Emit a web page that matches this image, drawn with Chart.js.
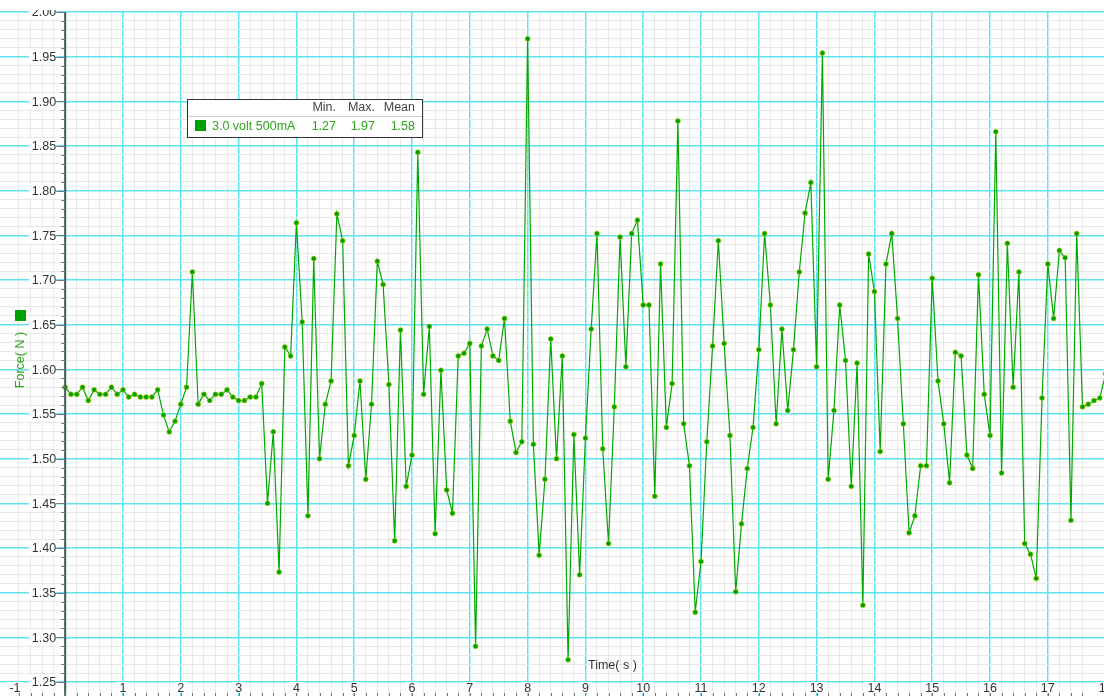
<!DOCTYPE html>
<html>
<head>
<meta charset="utf-8">
<script src="https://cdn.jsdelivr.net/npm/chart.js@4/dist/chart.umd.min.js"></script>
<style>
  html, body { margin: 0; padding: 0; background: #fff; }
  #force-chart { display: block; }
</style>
</head>
<body>
<canvas id="force-chart" width="1104" height="696"></canvas>
<script>
// sample times (s), 10 Hz
const times = [
  0.0, 0.1, 0.2, 0.3, 0.4, 0.5, 0.6, 0.7, 0.8, 0.9,
  1.0, 1.1, 1.2, 1.3, 1.4, 1.5, 1.6, 1.7, 1.8, 1.9,
  2.0, 2.1, 2.2, 2.3, 2.4, 2.5, 2.6, 2.7, 2.8, 2.9,
  3.0, 3.1, 3.2, 3.3, 3.4, 3.5, 3.6, 3.7, 3.8, 3.9,
  4.0, 4.1, 4.2, 4.3, 4.4, 4.5, 4.6, 4.7, 4.8, 4.9,
  5.0, 5.1, 5.2, 5.3, 5.4, 5.5, 5.6, 5.7, 5.8, 5.9,
  6.0, 6.1, 6.2, 6.3, 6.4, 6.5, 6.6, 6.7, 6.8, 6.9,
  7.0, 7.1, 7.2, 7.3, 7.4, 7.5, 7.6, 7.7, 7.8, 7.9,
  8.0, 8.1, 8.2, 8.3, 8.4, 8.5, 8.6, 8.7, 8.8, 8.9,
  9.0, 9.1, 9.2, 9.3, 9.4, 9.5, 9.6, 9.7, 9.8, 9.9,
  10.0, 10.1, 10.2, 10.3, 10.4, 10.5, 10.6, 10.7, 10.8, 10.9,
  11.0, 11.1, 11.2, 11.3, 11.4, 11.5, 11.6, 11.7, 11.8, 11.9,
  12.0, 12.1, 12.2, 12.3, 12.4, 12.5, 12.6, 12.7, 12.8, 12.9,
  13.0, 13.1, 13.2, 13.3, 13.4, 13.5, 13.6, 13.7, 13.8, 13.9,
  14.0, 14.1, 14.2, 14.3, 14.4, 14.5, 14.6, 14.7, 14.8, 14.9,
  15.0, 15.1, 15.2, 15.3, 15.4, 15.5, 15.6, 15.7, 15.8, 15.9,
  16.0, 16.1, 16.2, 16.3, 16.4, 16.5, 16.6, 16.7, 16.8, 16.9,
  17.0, 17.1, 17.2, 17.3, 17.4, 17.5, 17.6, 17.7, 17.8, 17.9,
  18.0
];

// force (N), "3.0 volt 500mA" run
const force = [
  1.580, 1.572, 1.572, 1.580, 1.565, 1.577, 1.572, 1.572, 1.580, 1.572,
  1.577, 1.569, 1.572, 1.569, 1.569, 1.569, 1.577, 1.549, 1.530, 1.542,
  1.561, 1.580, 1.709, 1.561, 1.572, 1.565, 1.572, 1.572, 1.577, 1.569,
  1.565, 1.565, 1.569, 1.569, 1.584, 1.450, 1.530, 1.373, 1.625, 1.615,
  1.764, 1.653, 1.436, 1.724, 1.500, 1.561, 1.587, 1.774, 1.744, 1.492,
  1.526, 1.587, 1.477, 1.561, 1.721, 1.695, 1.583, 1.408, 1.644, 1.469,
  1.504, 1.843, 1.572, 1.648, 1.416, 1.599, 1.465, 1.439, 1.615, 1.618,
  1.629, 1.290, 1.626, 1.645, 1.615, 1.610, 1.657, 1.542, 1.507, 1.519,
  1.970, 1.516, 1.392, 1.477, 1.634, 1.500, 1.615, 1.275, 1.527, 1.370,
  1.523, 1.645, 1.752, 1.511, 1.405, 1.558, 1.748, 1.603, 1.752, 1.767,
  1.672, 1.672, 1.458, 1.718, 1.535, 1.584, 1.878, 1.539, 1.492, 1.328,
  1.385, 1.519, 1.626, 1.744, 1.629, 1.526, 1.351, 1.427, 1.489, 1.535,
  1.622, 1.752, 1.672, 1.539, 1.645, 1.554, 1.622, 1.709, 1.775, 1.809,
  1.603, 1.954, 1.477, 1.554, 1.672, 1.610, 1.469, 1.607, 1.336, 1.729,
  1.687, 1.508, 1.718, 1.752, 1.657, 1.539, 1.417, 1.436, 1.492, 1.492,
  1.702, 1.587, 1.539, 1.473, 1.619, 1.615, 1.504, 1.489, 1.706, 1.572,
  1.526, 1.866, 1.484, 1.741, 1.580, 1.709, 1.405, 1.393, 1.366, 1.568,
  1.718, 1.657, 1.733, 1.725, 1.431, 1.752, 1.558, 1.561, 1.565, 1.568,
  1.595
];

const xLabels = [-1, 1, 2, 3, 4, 5, 6, 7, 8, 9, 10, 11, 12, 13, 14, 15, 16, 17, 18];
const yLabels = [2.00, 1.95, 1.90, 1.85, 1.80, 1.75, 1.70, 1.65, 1.60, 1.55, 1.50, 1.45, 1.40, 1.35, 1.30, 1.25];

const seriesName = '3.0 volt 500mA';
const statHeaders = ['Min.', 'Max.', 'Mean'];
const statValues = ['1.27', '1.97', '1.58'];

const CYAN = '#5fe4ef';
const MINOR = '#e8e8e8';
const GREEN_TEXT = '#2fa51c';
const FONT = '12.5px "Liberation Sans", Arial, sans-serif';

function onStep(v, step) {
  const r = v / step;
  return Math.abs(r - Math.round(r)) < 1e-6;
}

const gridColor = (major, minor) => (ctx) => {
  const v = ctx.tick.value;
  if (onStep(v, major)) return CYAN;
  if (onStep(v, minor)) return MINOR;
  return 'rgba(0,0,0,0)';
};
const gridWidth = (major) => (ctx) => onStep(ctx.tick.value, major) ? 1.5 : 1;

const axesPlugin = {
  id: 'axesPlugin',
  afterDraw(chart) {
    const ctx = chart.ctx;
    const x = chart.scales.x;
    const y = chart.scales.y;
    const area = chart.chartArea;
    const x0 = x.getPixelForValue(0);
    ctx.save();
    ctx.font = FONT;

    // y axis line at x = 0
    ctx.strokeStyle = '#555';
    ctx.lineWidth = 2;
    ctx.beginPath();
    ctx.moveTo(x0, area.top);
    ctx.lineTo(x0, area.bottom);
    ctx.stroke();

    // y minor ticks
    ctx.lineWidth = 1;
    ctx.strokeStyle = '#777';
    y.ticks.forEach(t => {
      if (!onStep(t.value, 0.01)) return;
      const py = Math.round(y.getPixelForValue(t.value)) + 0.5;
      const len = onStep(t.value, 0.05) ? 9 : 4;
      ctx.beginPath();
      ctx.moveTo(x0 - len, py);
      ctx.lineTo(x0, py);
      ctx.stroke();
    });

    // x minor ticks at bottom edge
    x.ticks.forEach(t => {
      if (!onStep(t.value, 0.2)) return;
      const px = Math.round(x.getPixelForValue(t.value)) + 0.5;
      ctx.beginPath();
      ctx.moveTo(px, area.bottom - 3);
      ctx.lineTo(px, area.bottom);
      ctx.stroke();
    });

    // y labels (clipped at the top of the plot)
    ctx.save();
    ctx.beginPath();
    ctx.rect(0, area.top - 2, chart.width, chart.height);
    ctx.clip();
    ctx.textAlign = 'right';
    ctx.textBaseline = 'middle';
    yLabels.forEach(v => {
      const py = y.getPixelForValue(v);
      const txt = v.toFixed(2);
      const w = ctx.measureText(txt).width;
      ctx.fillStyle = '#fff';
      ctx.fillRect(x0 - 10 - w - 2, py - 7, w + 3, 14);
      ctx.fillStyle = '#333';
      ctx.fillText(txt, x0 - 9, py + 1);
    });
    ctx.restore();

    // x labels along the bottom
    ctx.textAlign = 'center';
    ctx.textBaseline = 'top';
    xLabels.forEach(v => {
      let px = x.getPixelForValue(v);
      if (px < 15) px = 15;
      const txt = String(v);
      const w = ctx.measureText(txt).width;
      ctx.fillStyle = '#fff';
      ctx.fillRect(px - w / 2 - 3, area.bottom - 14, w + 6, 11);
      ctx.fillStyle = '#333';
      ctx.fillText(txt, px, area.bottom - 14);
    });

    // axis titles
    ctx.fillStyle = '#333';
    ctx.textAlign = 'left';
    ctx.textBaseline = 'middle';
    ctx.fillText('Time( s )', 588, 666);

    ctx.save();
    ctx.translate(21, 360);
    ctx.rotate(-Math.PI / 2);
    ctx.textAlign = 'center';
    ctx.fillStyle = GREEN_TEXT;
    ctx.fillText('Force( N )', 0, 0);
    ctx.restore();
    ctx.fillStyle = '#00a000';
    ctx.fillRect(15, 310, 11, 11);

    // stats legend box
    const bx = 187.5, by = 99.5, bw = 235, bh = 38;
    ctx.fillStyle = '#fff';
    ctx.fillRect(bx, by, bw, bh);
    ctx.strokeStyle = '#ccc';
    ctx.beginPath();
    ctx.moveTo(bx, 116.5);
    ctx.lineTo(bx + bw, 116.5);
    ctx.stroke();
    ctx.strokeStyle = '#333';
    ctx.strokeRect(bx, by, bw, bh);

    const cols = [336, 375, 415];
    ctx.textAlign = 'right';
    ctx.fillStyle = '#444';
    statHeaders.forEach((h, i) => ctx.fillText(h, cols[i], 108));
    ctx.fillStyle = GREEN_TEXT;
    statValues.forEach((s, i) => ctx.fillText(s, cols[i], 127));
    ctx.textAlign = 'left';
    ctx.fillText(seriesName, 212, 127);
    ctx.fillStyle = '#00a000';
    ctx.fillRect(195, 120, 11, 11);

    ctx.restore();
  }
};

new Chart(document.getElementById('force-chart'), {
  type: 'line',
  data: {
    datasets: [{
      label: seriesName,
      data: times.map((t, i) => ({x: t, y: force[i]})),
      borderColor: '#00a800',
      borderWidth: 1.2,
      pointRadius: 2.5,
      pointBackgroundColor: '#00a000',
      pointBorderColor: '#b8d400',
      pointBorderWidth: 0.6,
      tension: 0
    }]
  },
  options: {
    responsive: false,
    animation: false,
    devicePixelRatio: 1,
    layout: {autoPadding: false, padding: {top: 12, left: 0, right: 0, bottom: 0}},
    plugins: {legend: {display: false}, tooltip: {enabled: false}},
    scales: {
      x: {
        type: 'linear',
        min: -1.128,
        max: 17.972,
        ticks: {display: false, stepSize: 0.2},
        grid: {color: gridColor(1, 0.2), lineWidth: gridWidth(1), drawTicks: false},
        border: {display: false}
      },
      y: {
        type: 'linear',
        min: 1.2343,
        max: 2.0,
        ticks: {display: false, stepSize: 0.01},
        grid: {color: gridColor(0.05, 0.01), lineWidth: gridWidth(0.05), drawTicks: false},
        border: {display: false}
      }
    }
  },
  plugins: [axesPlugin]
});
</script>
</body>
</html>
